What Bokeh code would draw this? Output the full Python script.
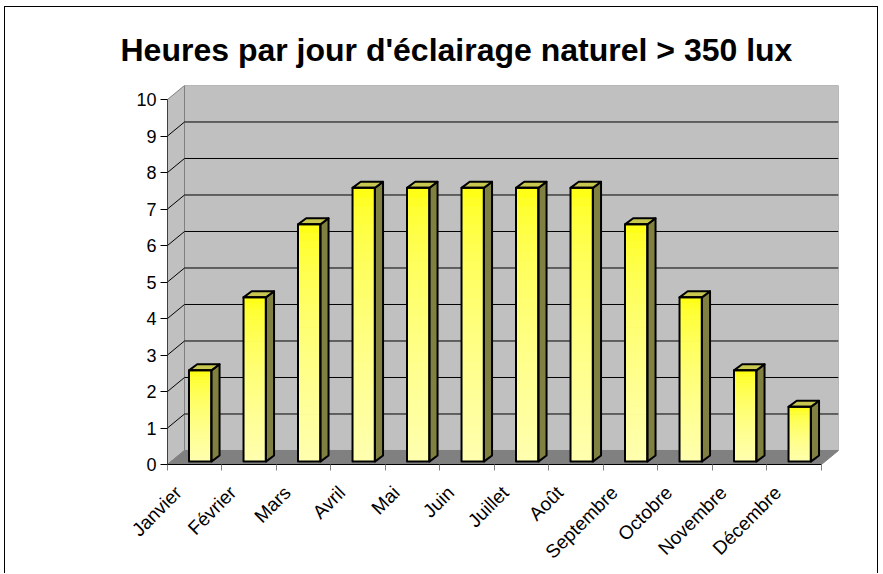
import numpy as np
from math import pi
from bokeh.plotting import figure
from bokeh.models import FixedTicker
from bokeh.embed import file_html
from bokeh.resources import INLINE

# ---- data ----
months = ["Janvier", "Février", "Mars", "Avril", "Mai", "Juin", "Juillet",
          "Août", "Septembre", "Octobre", "Novembre", "Décembre"]
hours = [2.5, 4.5, 6.5, 7.5, 7.5, 7.5, 7.5, 7.5, 6.5, 4.5, 2.5, 1.5]
y_ticks = list(range(0, 11))
title = "Heures par jour d'éclairage naturel > 350 lux"

# ---- 3D styling constants ----
DX, DY = 0.312, 0.384          # wall depth offset (category units, hours)
BW = 0.41                      # bar width
BFX, BFY = 0.10, 0.08          # bar front-face offset
BSX, BSY = 0.15, 0.165         # bar depth
NSL = 30                       # gradient slices
LBL_SHIFT = 0.30               # x-label anchor shift

n = len(months)
y_max = y_ticks[-1]
centers = np.arange(n) + 0.5
vals = np.array(hours, dtype=float)

p = figure(width=874, height=567, x_range=(0, n + DX), y_range=(0, y_max + DY),
           output_backend="svg", toolbar_location=None,
           min_border_left=162, min_border_right=41,
           min_border_top=78, min_border_bottom=110)
p.styles = {"border-left": "1px solid black", "border-top": "1px solid black",
            "border-right": "1px solid black", "margin-left": "4px", "margin-top": "6px"}
p.outline_line_color = None
p.grid.visible = False
p.background_fill_color = "white"

# walls
p.quad(left=DX, right=n + DX, bottom=DY, top=y_max + DY,
       fill_color="#C0C0C0", line_color="#808080", line_width=1)
p.patch([0, DX, DX, 0], [0, DY, y_max + DY, y_max],
        fill_color="#C0C0C0", line_color="#808080", line_width=1)
p.patch([0, n, n + DX, DX], [0, 0, DY, DY],
        fill_color="#808080", line_color="#808080", line_width=1)
gk = np.array(y_ticks[1:-1], dtype=float)
p.segment(x0=np.full(len(gk), DX), y0=gk + DY, x1=np.full(len(gk), n + DX), y1=gk + DY,
          line_color="black", line_width=1)
p.segment(x0=np.zeros(len(gk)), y0=gk, x1=np.full(len(gk), DX), y1=gk + DY,
          line_color="black", line_width=1)

# bars: front face with vertical gradient
left = centers - BW / 2 + BFX
right = centers + BW / 2 + BFX
L, R, B, T, C = [], [], [], [], []
for i in range(n):
    v = vals[i]
    for k in range(NSL):
        b = v * k / NSL
        t = v * (k + 1) / NSL
        frac = (k + 0.5) / NSL
        blue = int(round(175 * (1 - frac) ** 0.5))
        L.append(left[i]); R.append(right[i])
        B.append(b + BFY); T.append(t + BFY)
        C.append("#ffff%02x" % blue)
p.quad(left=L, right=R, bottom=B, top=T, fill_color=C, line_color=C, line_width=1)

# side faces
side_xs = [[right[i], right[i] + BSX, right[i] + BSX, right[i]] for i in range(n)]
side_ys = [[BFY, BFY + BSY, vals[i] + BFY + BSY, vals[i] + BFY] for i in range(n)]
p.patches(side_xs, side_ys, fill_color="#808040", line_color="black", line_width=2,
          line_join="round")
# top faces
top_xs = [[left[i], right[i], right[i] + BSX, left[i] + BSX] for i in range(n)]
top_ys = [[vals[i] + BFY, vals[i] + BFY, vals[i] + BFY + BSY, vals[i] + BFY + BSY] for i in range(n)]
p.patches(top_xs, top_ys, fill_color="#C8C850", line_color="black", line_width=2,
          line_join="round")
# front outline
p.quad(left=left, right=right, bottom=np.full(n, BFY), top=vals + BFY,
       fill_color=None, line_color="black", line_width=2, line_join="round")

# axes
lbl_pos = centers - LBL_SHIFT
xa = p.xaxis[0]
xa.ticker = FixedTicker(ticks=list(lbl_pos), minor_ticks=list(range(0, n + 1)))
xa.major_label_overrides = {float(c): m for c, m in zip(lbl_pos, months)}
xa.bounds = (0, n)
xa.major_tick_line_color = None
xa.major_tick_out = 6
xa.major_tick_in = 0
xa.minor_tick_in = 0
xa.minor_tick_out = 6
xa.minor_tick_line_color = "#808080"
xa.axis_line_color = "black"
xa.major_label_orientation = pi / 4
xa.major_label_standoff = 19
xa.major_label_text_font = "Liberation Sans"
xa.major_label_text_font_size = "19px"
xa.major_label_text_color = "black"

ya = p.yaxis[0]
ya.ticker = FixedTicker(ticks=y_ticks, minor_ticks=[])
ya.bounds = (0, y_max)
ya.major_tick_in = 0
ya.major_tick_out = 7
ya.major_tick_line_color = "black"
ya.axis_line_color = "#404040"
ya.major_label_standoff = 4
ya.major_label_text_font = "Liberation Sans"
ya.major_label_text_font_size = "18px"
ya.major_label_text_color = "black"

p.title.text = title
p.title.text_font = "Liberation Sans"
p.title.text_font_style = "bold"
p.title.text_font_size = "32px"
p.title.text_color = "black"
p.title.align = "left"
p.title.offset = -47
p.title.standoff = 35

open("out.html", "w").write(file_html(p, INLINE))
